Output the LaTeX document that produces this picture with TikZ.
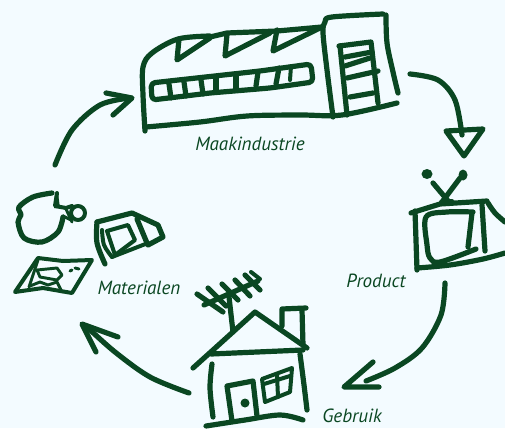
\documentclass[tikz,border=0pt]{standalone}
\usepackage{fontspec}
\setmainfont{PT Sans}
\definecolor{ink}{HTML}{0A4722}
\definecolor{paper}{HTML}{F3FBFF}
\tikzset{
  inkline/.style={draw=ink,line width=3.9pt,line cap=round,line join=round},
  thinline/.style={draw=ink,line width=3pt,line cap=round,line join=round},
  fineline/.style={draw=ink,line width=2.2pt,line cap=round,line join=round},
  lbl/.style={text=ink,font=\itshape\fontsize{14.3pt}{16pt}\selectfont,inner sep=0pt},
  sm/.style={smooth,tension=.55}
}
\begin{document}
\begin{tikzpicture}[x=.75pt,y=-.75pt]
\fill[paper] (0,0) rectangle (505,428);
\useasboundingbox (0,0) rectangle (505,428);
% factory
\draw[inkline] plot[sm] coordinates {(145,131) (143,95) (143,67) (152,53) (178,39) (210,36)};
\draw[inkline] (179,39) -- (177,60) -- (210,38);
\draw[inkline] (227,34) -- (225,56) -- (270,33);
\draw[inkline] (210,37) -- (227,33) -- (277,31) -- (322,27);
\draw[inkline] (277,30) -- (273,51) -- (322,27);
\draw[inkline] plot[sm] coordinates {(333,117) (327,70) (323,33) (325,22) (332,17) (383,14)};
\draw[inkline] plot[sm] coordinates {(386,15) (387,43) (393,72) (398,93)};
\draw[inkline] plot[sm] coordinates {(146,127) (200,122) (247,116) (300,115) (342,115) (397,103)};
\draw[inkline,rounded corners=3pt] (151,83) -- (260,71) -- (311,64) -- (313,82) -- (270,88) -- (210,93) -- (152,100) -- cycle;
\draw[inkline] (169,84) -- (171,98);
\draw[inkline] (184,82) -- (186,96);
\draw[inkline] (201,80) -- (203,94);
\draw[inkline] (216,78) -- (216,92);
\draw[inkline] (236,76) -- (236,90);
\draw[inkline] (258,72) -- (256,86);
\draw[inkline] (279,68) -- (276,84);
\draw[thinline] (291,66) -- (290,80);
\draw[inkline] (340,46) -- (347,115);
\draw[inkline] (339,46) -- (371,42) -- (378,103);
\draw[inkline] (345,57) -- (372,52);
\draw[inkline] (345,66) -- (370,58);
\draw[inkline] (347,78) -- (378,71);
\draw[inkline] (350,97) -- (373,93);
\node[lbl] (lbM) at (250,144) {Maakindustrie};
% arrow factory -> TV
\draw[inkline] plot[sm] coordinates {(410,74) (438,80) (455,100) (462,135)};
\draw[inkline] (446,131) -- (483,129) -- (464,156) -- cycle;
% TV
\fill[ink] (427,174) ellipse (5.5 and 5);
\fill[ink] (463,175) ellipse (4.5 and 5.5);
\draw[inkline] (433,183) -- (449,202);
\draw[inkline] (460,178) -- (442,202);
\draw[thinline] (441,202) -- (452,201);
\draw[inkline] (415,211) -- (417,270);
\draw[inkline] (411,213) -- (440,204) -- (487,201);
\draw[inkline] plot[sm] coordinates {(417,268) (450,265) (483,259) (505,253)};
\draw[inkline] (482,205) -- (485,251);
\draw[inkline] plot[sm] coordinates {(488,203) (495,213) (505,222)};
\draw[inkline] plot[sm] coordinates {(473,212) (447,212) (426,217) (427,245) (430,258) (440,262) (476,249)};
\draw[inkline] (472,213) -- (468,247);
\node[lbl] (lbP) at (376,281) {Product};
% arrow TV -> house
\draw[inkline] plot[sm] coordinates {(445,283) (441,315) (422,348) (395,368) (366,381)};
\draw[inkline] (373,362) -- (344,387) -- (379,387);
% house
\draw[inkline] (193,368) -- (213,350) -- (255,312) -- (307,348);
\draw[inkline] (211,354) -- (303,350);
\draw[inkline] (282,326) -- (282,309) -- (306,308);
\draw[inkline] (302,310) -- (303,345);
\draw[inkline] (229,297) -- (233,332);
\draw[inkline] (204,305) -- (258,281);
\draw[inkline] (197,294) -- (223,312);
\draw[inkline] (208,288) -- (226,306);
\draw[inkline] (222,284) -- (238,300);
\draw[inkline] (235,280) -- (250,296);
\draw[inkline] (245,275) -- (260,290);
\draw[thinline] (251,272) -- (260,279);
\draw[inkline] plot[sm] coordinates {(212,364) (210,388) (213,417)};
\draw[inkline] plot[sm] coordinates {(300,354) (304,385) (307,410)};
\draw[inkline] plot[sm] coordinates {(206,426) (245,420) (280,415) (303,420)};
\draw[inkline] (232,421) -- (227,386) -- (253,381) -- (257,416);
\fill[ink] (245,403) circle (4.5);
\draw[thinline] (262,379) -- (292,368) -- (290,392) -- (265,402) -- cycle;
\draw[thinline] (277,375) -- (278,397);
\draw[thinline] (264,384) -- (290,376);
\node[lbl] (lbG) at (352,416) {Gebruik};
% arrow house -> materials
\draw[inkline] plot[sm] coordinates {(189,393) (150,377) (115,352) (87,327)};
\draw[inkline] (118,337) -- (82,324) -- (96,352);
% arrow materials -> factory
\draw[inkline] plot[sm] coordinates {(55,165) (72,130) (100,105) (130,98)};
\draw[inkline] (106,93) -- (132,98) -- (113,115);
% bulb
\draw[inkline] plot[sm] coordinates {(52,193) (33,197) (19,207) (21,215) (18,222) (24,238) (42,242) (58,232) (63,217)};
\draw[thinline] (57,193) -- (55,206) -- (66,208) -- (72,206);
\fill[ink] (55,195) -- (58,193) -- (60,208) -- (54,208) -- cycle;
\draw[thinline] (78,213) circle (7);
\draw[fineline] (66,209) -- (72,222);
\draw[fineline] (63,216) -- (71,220);
% can
\draw[inkline] plot[sm] coordinates {(105,264) (97,243) (97,222)};
\draw[inkline] (97,222) -- (132,213) -- (158,225) -- (163,237) -- (148,245);
\draw[thinline] plot[sm] coordinates {(102,230) (104,245) (112,257)};
\draw[thinline] (112,257) -- (148,243);
\draw[inkline] (137,219) -- (147,243);
\draw[thinline] (107,231) -- (128,225) -- (135,240) -- (115,255) -- cycle;
% map
\draw[thinline] (15,292) -- (38,258) -- (63,261) -- (92,260) -- (72,293) -- (43,288) -- cycle;
\draw[fineline] (38,260) -- (29,287);
\draw[fineline] (37,270) -- (57,268) -- (62,275) -- (57,280) -- (40,277) -- cycle;
\draw[fineline] (30,286) -- (40,282) -- (48,285) -- (57,282) -- (62,292);
\draw[fineline] (70,271) -- (72,270);
\draw[fineline] (75,268) -- (79,269);
\node[lbl] (lbX) at (139,288) {Materialen};
\end{tikzpicture}
\end{document}
